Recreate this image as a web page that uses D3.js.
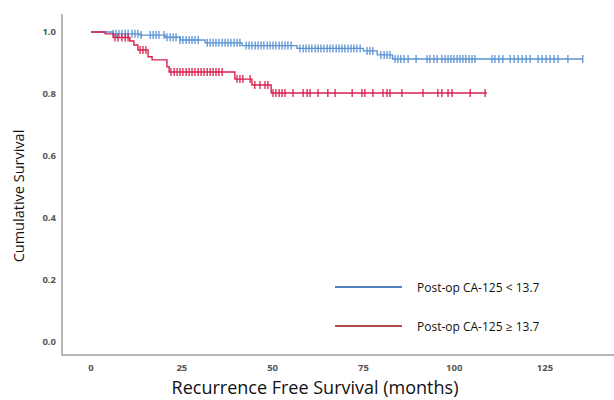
<!DOCTYPE html>
<html>
<head>
<meta charset="utf-8">
<script src="https://cdn.jsdelivr.net/npm/d3@7"></script>
<style>
  body { margin: 0; background: #fff; }
  svg { display: block; font-family: "Open Sans", "Noto Sans", sans-serif; }
</style>
</head>
<body>
<div id="chart"></div>
<script>
// Kaplan-Meier steps (months, cumulative survival)
const lowTimes = [0, 6.0, 13.5, 20.4, 24.5, 31.4, 41.6, 56.7, 75.0, 78.8, 83.0];
const lowSurv = [1, 0.994, 0.99, 0.983, 0.974, 0.965, 0.956, 0.947, 0.939, 0.926, 0.913];
const lowEnd = 135.4;
const lowCensor = [6.1, 6.9, 7.7, 8.5, 9.4, 10.2, 11.3, 12.1, 12.9, 13.8, 16.3, 17.1, 17.9, 18.7,
  20.1, 20.9, 21.8, 22.6, 23.4, 24.5, 25.3, 26.2, 27.0, 27.8, 28.6, 29.5, 32.0, 32.8, 33.6, 34.4,
  35.2, 36.1, 36.9, 37.7, 38.5, 39.4, 40.2, 41.0, 42.7, 43.5, 44.3, 45.2, 46.0, 46.8, 47.6, 48.5,
  49.3, 50.1, 50.9, 51.8, 52.6, 53.4, 54.2, 55.1, 57.5, 58.4, 59.2, 60.0, 60.8, 61.7, 62.5, 63.3,
  64.1, 65.0, 65.8, 66.6, 67.5, 68.3, 69.1, 69.9, 70.8, 71.6, 72.4, 73.2, 74.1, 76.0, 76.8, 77.6,
  79.8, 80.7, 81.5, 82.3, 83.7, 84.5, 85.3, 86.2, 87.3, 89.5, 92.5, 93.3, 94.4, 95.3, 96.6, 97.5,
  98.3, 99.1, 99.9, 100.8, 101.6, 102.4, 103.2, 104.1, 104.9, 105.7, 110.4, 111.2, 112.3, 113.4,
  115.4, 116.5, 117.6, 118.7, 119.8, 120.9, 123.1, 124.2, 125.3, 126.4, 127.5, 128.6, 131.3, 135.4];

const highTimes = [0, 3.9, 6.1, 10.7, 11.8, 12.9, 15.7, 16.8, 20.9, 21.5, 39.6, 44.3, 49.6];
const highSurv = [1, 0.994, 0.982, 0.971, 0.958, 0.942, 0.92, 0.91, 0.888, 0.871, 0.848, 0.829, 0.803];
const highEnd = 109;
const highCensor = [6.6, 7.4, 8.5, 9.4, 10.2, 13.5, 14.3, 15.1, 22.0, 22.9, 23.7, 24.5, 25.3, 26.2,
  27.0, 27.8, 28.6, 29.5, 30.3, 31.1, 32.0, 32.8, 33.6, 34.4, 35.2, 36.1, 40.2, 41.0, 41.8, 43.8,
  45.1, 46.5, 47.9, 48.7, 50.1, 50.9, 51.8, 52.6, 53.4, 55.6, 58.4, 59.5, 60.3, 62.5, 65.2, 67.2,
  71.9, 74.6, 75.4, 77.6, 80.4, 81.5, 82.3, 85.6, 91.4, 95.5, 96.6, 98.3, 99.4, 104.4, 108.5];

const xTicks = [0, 25, 50, 75, 100, 125];
const yTicks = [0, 0.2, 0.4, 0.6, 0.8, 1.0];
const legendLabels = ["Post-op CA-125 < 13.7", "Post-op CA-125 \u2265 13.7"];

const width = 614;
const height = 400;

const svg = d3.select("#chart").append("svg")
  .attr("width", width)
  .attr("height", height);

const x = d3.scaleLinear().domain([-8, 144]).range([62, 614]);
const y = d3.scaleLinear().domain([-0.042, 1.058]).range([355, 14]);

// axes (SPSS style: no tick marks)
svg.append("line")
  .attr("x1", 62).attr("x2", 62).attr("y1", 14).attr("y2", 355.5)
  .attr("stroke", "#a0a0a0").attr("stroke-width", 1.5);
svg.append("line")
  .attr("x1", 62).attr("x2", 614).attr("y1", 355).attr("y2", 355)
  .attr("stroke", "#a0a0a0").attr("stroke-width", 1.5);

svg.append("g").selectAll("text")
  .data(yTicks)
  .join("text")
  .attr("x", 56)
  .attr("y", (d) => y(d) + 3)
  .attr("text-anchor", "end")
  .attr("font-size", 9.5)
  .attr("font-weight", "bold")
  .attr("fill", "#555")
  .text((d) => d.toFixed(1));

svg.append("g").selectAll("text")
  .data(xTicks)
  .join("text")
  .attr("x", (d) => x(d))
  .attr("y", 371)
  .attr("text-anchor", "middle")
  .attr("font-size", 9.5)
  .attr("font-weight", "bold")
  .attr("fill", "#555")
  .text((d) => d);

svg.append("text")
  .attr("transform", "translate(24,196) rotate(-90)")
  .attr("text-anchor", "middle")
  .attr("font-size", 14.5)
  .attr("fill", "#111")
  .text("Cumulative Survival");

svg.append("text")
  .attr("x", 315)
  .attr("y", 394)
  .attr("text-anchor", "middle")
  .attr("font-size", 18)
  .attr("fill", "#111")
  .text("Recurrence Free Survival (months)");

function levelAt(times, surv, t) {
  let s = surv[0];
  times.forEach((tt, i) => { if (tt <= t) s = surv[i]; });
  return s;
}

const line = d3.line()
  .x((d) => x(d[0]))
  .y((d) => y(d[1]))
  .curve(d3.curveStepAfter);

function drawCurve(times, surv, end, censor, color) {
  const pts = times.map((t, i) => [t, surv[i]]);
  pts.push([end, surv[surv.length - 1]]);
  svg.append("path")
    .datum(pts)
    .attr("fill", "none")
    .attr("stroke", color)
    .attr("stroke-width", 1.4)
    .attr("d", line);

  svg.append("g").selectAll("line")
    .data(censor)
    .join("line")
    .attr("x1", (d) => x(d))
    .attr("x2", (d) => x(d))
    .attr("y1", (d) => y(levelAt(times, surv, d)) - 4)
    .attr("y2", (d) => y(levelAt(times, surv, d)) + 4)
    .attr("stroke", color)
    .attr("stroke-width", 1.3);
}

drawCurve(lowTimes, lowSurv, lowEnd, lowCensor, "#5b93d3");
drawCurve(highTimes, highSurv, highEnd, highCensor, "#d8224f");

// legend
const legendColors = ["#4f81bd", "#b0504e"];
const legend = svg.append("g").selectAll("g")
  .data(legendLabels)
  .join("g")
  .attr("transform", (d, i) => `translate(335, ${287 + i * 39})`);
legend.append("line")
  .attr("x1", 0).attr("x2", 67)
  .attr("stroke", (d, i) => legendColors[i])
  .attr("stroke-width", 2.2);
legend.append("text")
  .attr("x", 82)
  .attr("y", 4.5)
  .attr("font-size", 12)
  .attr("fill", "#111")
  .text((d) => d);
</script>
</body>
</html>
